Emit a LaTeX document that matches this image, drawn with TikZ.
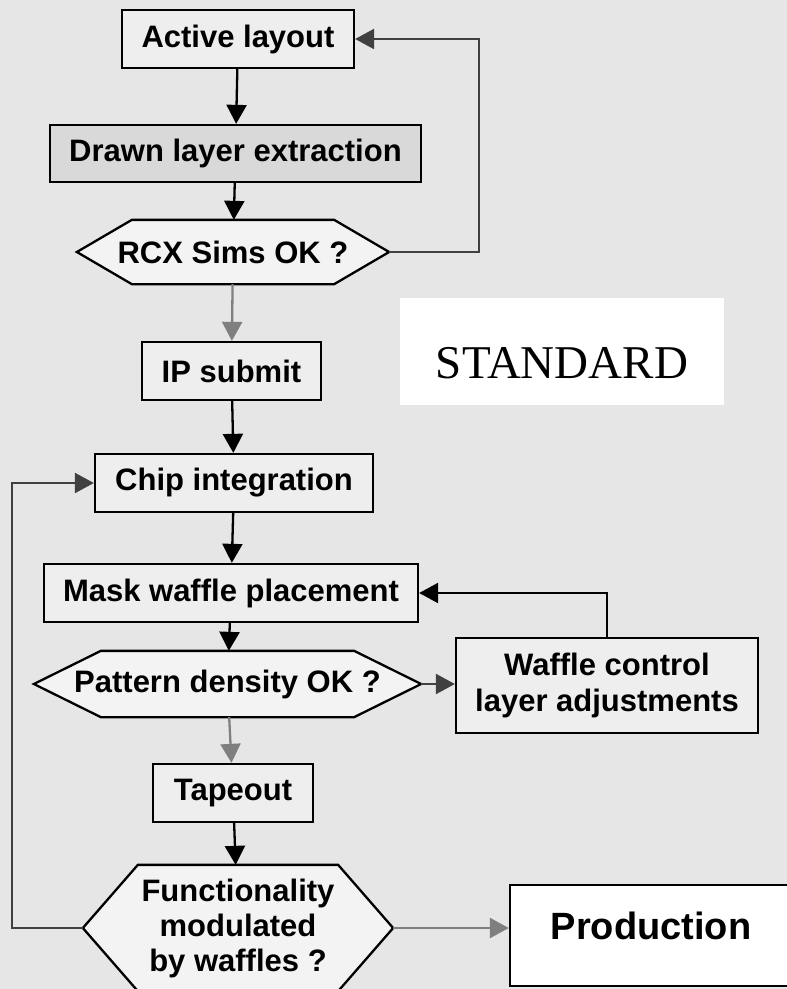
\documentclass[tikz,border=0pt]{standalone}
\usepackage{fontspec}
\setmainfont{Liberation Sans}
\newfontfamily\stdfont{Liberation Serif}
\usetikzlibrary{arrows.meta,backgrounds}
\definecolor{bggray}{HTML}{E6E6E6}
\definecolor{boxgray}{HTML}{EEEEEE}
\definecolor{hexgray}{HTML}{F3F3F3}
\definecolor{drawngray}{HTML}{D9D9D9}
\definecolor{lnkgray}{HTML}{7F7F7F}
\definecolor{loopgray}{HTML}{404040}

\begin{document}
\begin{tikzpicture}
        [x=1pt,y=-1pt,
        every node/.style={draw,line width=2.3pt,inner sep=0pt,align=center,
                           font=\fontsize{31}{36}\selectfont\bfseries},
        proc/.style 2 args={rectangle,fill=boxgray,minimum width=#1,minimum height=#2},
        dec/.style 2 args={rectangle,draw=none,minimum width=#1,minimum height=#2},
        blk/.style={line width=2.3pt,-{Triangle[length=19pt,width=20pt]}},
        gry/.style={blk,draw=lnkgray,-{Triangle[length=19pt,width=20pt,fill=lnkgray]}},
        dkl/.style={blk,draw=loopgray,-{Triangle[length=19pt,width=20pt,fill=loopgray]}}]
        \useasboundingbox (0,0) rectangle (787,989);
        % main flow
        \node[proc={232pt}{58pt}] (act) at (238,39) {Active layout};
        \node[proc={371pt}{57pt},fill=drawngray] (drawn) at (235.5,153.5) {Drawn layer extraction};
        \node[dec={310pt}{62pt}] (rcx) at (233,252) {RCX Sims OK ?};
        \node[proc={179pt}{58pt}] (ip) at (231.5,371) {IP submit};
        \node[draw=none,fill=white,minimum width=324pt,minimum height=107pt,
              text height=53pt,text depth=0pt,
              font=\fontsize{47}{50}\selectfont\stdfont] (std) at (562,351.5) {STANDARD};
        \node[proc={278pt}{58pt}] (chip) at (234,483) {Chip integration};
        \node[proc={374pt}{58pt}] (mask) at (231,593) {Mask waffle placement};
        \node[dec={385pt}{64pt}] (pat) at (227.5,684) {Pattern density OK ?};
        \node[proc={302pt}{95pt}] (waf) at (607,685.5) {Waffle control\\layer adjustments};
        \node[proc={160pt}{58pt}] (tape) at (233,793) {Tapeout};
        \node[dec={308pt}{124pt},font=\fontsize{31}{35}\selectfont\bfseries] (func) at (238,928)
              {Functionality\\modulated\\by waffles ?};
        \node[proc={282pt}{101pt},fill=white,text height=27pt,text depth=20pt,
              font=\fontsize{38}{40}\selectfont\bfseries] (prod) at (651,935.5) {Production};
        % background and decision outlines
        \begin{scope}[on background layer]
          \fill[bggray] (0,0) rectangle (787,989);
          \foreach \n/\d in {rcx/55,pat/67,func/55}
            \draw[line width=2.3pt,fill=hexgray] (\n.west) -- ([xshift=\d]\n.north west)
              -- ([xshift=-\d]\n.north east) -- (\n.east)
              -- ([xshift=-\d]\n.south east) -- ([xshift=\d]\n.south west) -- cycle;
        \end{scope}
        % connectors
        \draw[blk] (act) -- (drawn);
        \draw[blk] (drawn) -- (rcx);
        \draw[gry] (rcx) -- (ip);
        \draw[blk] (ip) -- (chip);
        \draw[blk] (chip) -- (mask);
        \draw[blk] (mask) -- (pat);
        \draw[gry] (pat) -- (tape);
        \draw[blk] (tape) -- (func);
        \draw[dkl] (pat.east) -- (pat.east -| waf.west);
        \draw[gry] (func.east) -- (func.east -| prod.west);
        % loops back
        \draw[dkl] (rcx.east) -- ++(90,0) |- (act.east);
        \draw[blk] (waf.north) |- (mask.east);
        \draw[dkl] (func.west) -- ++(-71,0) |- (chip.west);
\end{tikzpicture}
\end{document}
